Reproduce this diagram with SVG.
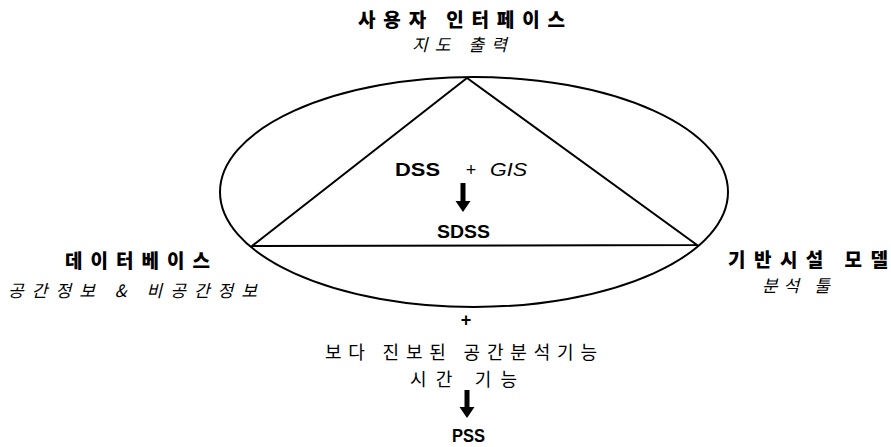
<svg xmlns="http://www.w3.org/2000/svg" width="891" height="447" viewBox="0 0 891 447">
<style>
.k{font-family:"Noto Sans CJK KR","Noto Sans",sans-serif;fill:#000}
.b{font-weight:900;font-size:19px}
.i{font-style:italic;font-size:17px}
.r{font-size:18px}
.e{font-family:"Liberation Sans",Arial,sans-serif;fill:#000;font-size:18px}
.line{fill:none;stroke:#000;stroke-width:2}
</style>
<rect width="891" height="447" fill="#fff"/>
<g id="ellipse"><ellipse class="line" cx="474" cy="192" rx="254" ry="115"/></g>
<g id="connectors">
<path class="line" d="M252,246 L467,78 L697,245 Z"/>
<path d="M460.5,183 h5 v18 h5 l-7.5,11 l-7.5,-11 h5 z" fill="#000"/>
<path d="M464.5,390 h5 v17 h5 l-7.5,11 l-7.5,-11 h5 z" fill="#000"/>
</g>
<g id="ui">
<text class="k b" x="358" y="27" textLength="207" lengthAdjust="spacing">사용자 인터페이스</text>
<text class="k i" x="412" y="51" textLength="95" lengthAdjust="spacing">지도 출력</text>
</g>
<g id="db">
<text class="k b" x="65" y="268" textLength="145" lengthAdjust="spacing">데이터베이스</text>
<text class="k i" x="8" y="297" textLength="249" lengthAdjust="spacing">공간정보 &amp; 비공간정보</text>
</g>
<g id="model">
<text class="k b" x="728" y="267" textLength="160" lengthAdjust="spacing">기반시설 모델</text>
<text class="k i" x="762" y="292" textLength="68" lengthAdjust="spacing">분석 툴</text>
</g>
<g id="center">
<text class="e" x="395" y="176" font-weight="bold" textLength="45" lengthAdjust="spacingAndGlyphs">DSS</text>
<text class="e" x="471" y="176" text-anchor="middle">+</text>
<text class="e" x="490" y="176" font-style="italic" textLength="37" lengthAdjust="spacingAndGlyphs">GIS</text>
<text class="e" x="437" y="238" font-weight="bold" textLength="53" lengthAdjust="spacingAndGlyphs">SDSS</text>
</g>
<g id="pss">
<text class="e" x="466" y="326" text-anchor="middle" font-weight="bold" font-size="16">+</text>
<text class="k r" x="325" y="359" textLength="272" lengthAdjust="spacing">보다 진보된 공간분석기능</text>
<text class="k r" x="410" y="386" textLength="107" lengthAdjust="spacing">시간 기능</text>
<text class="e" x="452" y="442" font-weight="bold" font-size="19" textLength="33" lengthAdjust="spacingAndGlyphs">PSS</text>
</g>
</svg>
